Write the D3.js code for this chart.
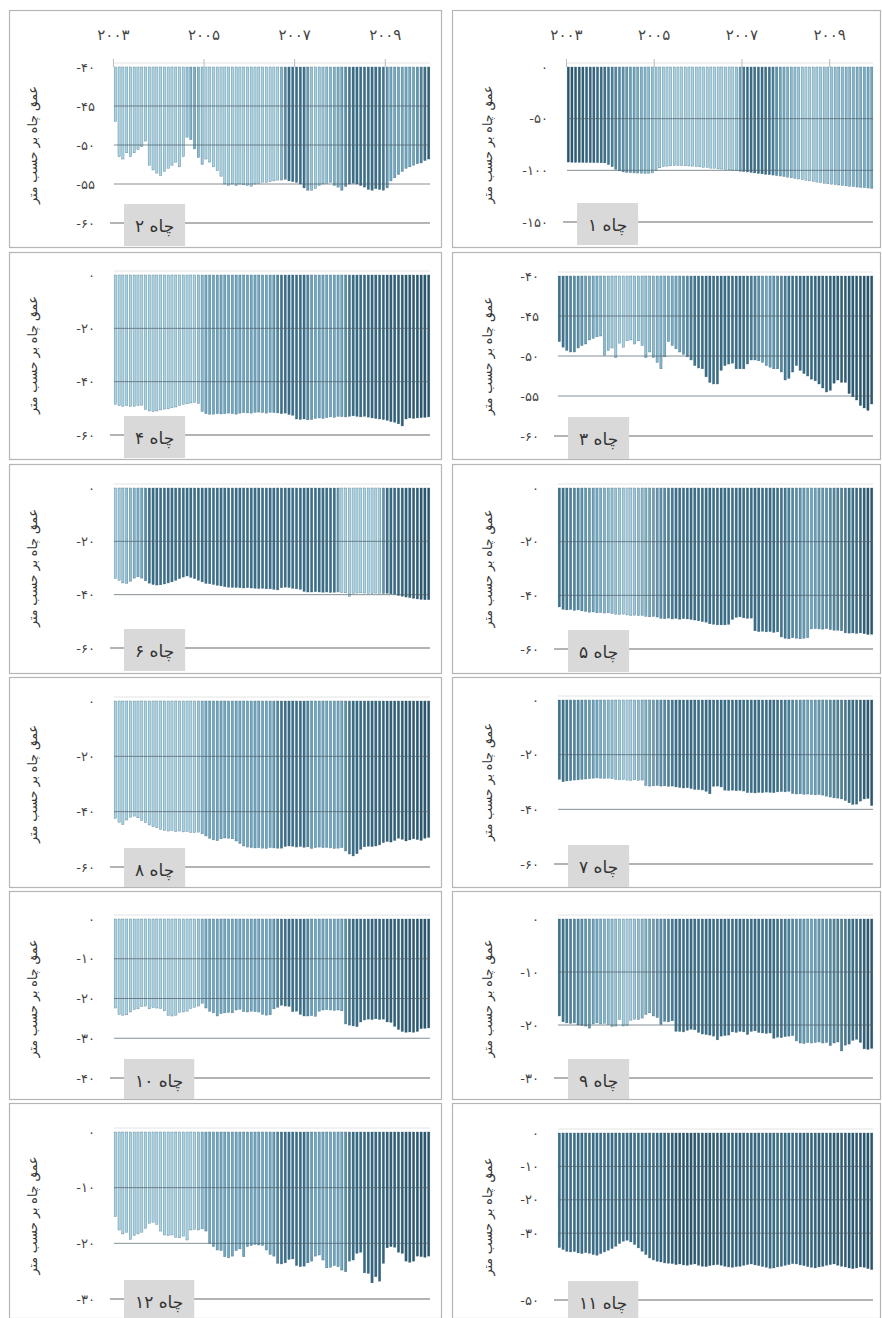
<!DOCTYPE html>
<html><head><meta charset="utf-8">
<script src="https://cdn.jsdelivr.net/npm/d3@7/dist/d3.min.js"></script>
<style>
html,body{margin:0;padding:0;background:#fff;}
svg{display:block;font-family:"DejaVu Sans",sans-serif;}
</style></head>
<body><svg id="chart" width="882" height="1318"></svg>
<script>
// ---------- DATA ----------
const years = [2003, 2004, 2005, 2006, 2007, 2008, 2009];
const yearTicks = [2003, 2005, 2007, 2009];
const yTitle = "عمق چاه بر حسب متر";
const wellLabel = "چاه";

const well1 = [-92.0,-92.2,-92.3,-92.3,-92.4,-92.5,-92.5,-92.6,-92.6,-92.7,-92.8,-94.5,
  -96.5,-99.0,-100.5,-101.5,-102.0,-102.3,-102.5,-102.6,-102.8,-103.0,-102.8,-102.5,
  -100.0,-97.5,-96.5,-96.0,-95.6,-95.5,-95.4,-95.5,-95.6,-95.8,-96.0,-96.3,
  -96.6,-97.1,-97.2,-97.9,-98.0,-98.6,-98.7,-99.3,-99.5,-100.1,-100.3,-100.9,
  -101.2,-101.6,-102.0,-102.5,-103.0,-103.4,-103.8,-104.2,-104.6,-105.0,-105.5,-106.0,
  -106.6,-107.2,-107.8,-108.4,-109.0,-109.6,-110.2,-110.8,-111.4,-112.0,-112.5,-113.0,
  -113.4,-113.8,-114.2,-114.6,-115.0,-115.4,-115.8,-116.2,-116.5,-116.8,-117.1,-117.4];
const well2 = [-47.0,-51.5,-51.8,-51.0,-51.5,-51.0,-50.6,-50.2,-49.5,-52.6,-53.2,-53.6,
  -53.9,-53.4,-53.0,-52.6,-52.2,-52.8,-51.5,-49.0,-49.3,-50.5,-51.6,-52.5,
  -51.8,-52.2,-52.8,-53.3,-54.0,-55.0,-55.2,-55.0,-55.2,-55.0,-55.1,-55.2,
  -55.3,-55.0,-54.9,-54.8,-54.8,-54.7,-54.6,-54.5,-54.5,-54.4,-54.6,-54.7,
  -54.8,-55.0,-55.5,-55.8,-55.8,-55.6,-55.2,-55.0,-54.9,-54.8,-55.2,-55.4,
  -55.8,-55.3,-55.0,-54.9,-55.0,-55.2,-55.4,-55.7,-55.8,-55.6,-55.7,-55.8,
  -55.5,-54.6,-54.2,-53.8,-53.4,-53.0,-52.8,-52.6,-52.4,-52.3,-52.0,-51.8];
const well3 = [-48.2,-48.9,-49.3,-49.5,-49.5,-49.0,-48.7,-48.5,-48.0,-47.8,-47.6,-47.5,
  -49.9,-49.3,-49.0,-50.2,-48.4,-48.9,-48.1,-48.0,-48.5,-48.1,-48.7,-50.2,
  -49.5,-50.2,-50.8,-51.6,-50.1,-48.2,-48.7,-49.1,-49.5,-49.8,-50.1,-50.5,
  -51.2,-51.5,-51.6,-52.6,-53.3,-53.5,-53.5,-51.8,-51.2,-51.0,-50.9,-51.6,
  -51.6,-51.6,-51.0,-50.5,-50.5,-50.6,-50.8,-51.2,-51.4,-51.6,-51.6,-52.0,
  -53.0,-52.8,-52.0,-51.2,-51.8,-52.2,-52.5,-52.9,-53.1,-53.5,-54.0,-54.5,
  -54.3,-53.4,-53.0,-53.3,-53.3,-54.7,-55.1,-55.5,-56.2,-56.5,-56.8,-56.0];
const well4 = [-48.5,-49.0,-49.2,-49.0,-49.3,-49.2,-49.0,-48.8,-50.5,-51.0,-51.2,-51.0,
  -50.6,-50.3,-50.2,-49.8,-49.5,-49.0,-48.5,-48.3,-48.0,-47.8,-48.2,-51.2,
  -52.0,-52.2,-52.2,-52.0,-52.1,-52.0,-51.8,-52.0,-52.2,-51.8,-51.6,-51.7,
  -51.8,-51.5,-51.4,-51.6,-51.8,-51.5,-51.6,-51.7,-52.0,-51.8,-52.3,-52.6,
  -54.0,-54.2,-54.0,-54.3,-54.2,-53.8,-53.6,-53.8,-53.5,-53.2,-53.4,-53.0,
  -53.1,-53.2,-53.0,-52.8,-53.0,-53.2,-53.0,-53.3,-53.6,-53.8,-54.0,-54.2,
  -54.5,-55.0,-55.2,-55.8,-56.6,-54.0,-53.6,-53.8,-53.6,-53.5,-53.4,-53.2];
const well5 = [-44.3,-45.2,-45.4,-45.3,-45.6,-45.4,-45.8,-46.0,-46.3,-46.2,-46.5,-46.4,
  -46.6,-46.5,-46.8,-47.0,-47.2,-47.0,-47.3,-47.5,-47.4,-47.6,-47.5,-47.8,
  -48.0,-47.9,-48.1,-48.6,-48.7,-48.5,-48.8,-48.6,-48.9,-48.7,-48.8,-49.0,
  -49.2,-49.5,-49.8,-50.0,-50.6,-50.8,-51.0,-51.0,-51.0,-50.8,-49.0,-48.2,
  -48.0,-48.4,-48.6,-48.5,-53.2,-53.5,-53.4,-53.6,-53.5,-53.8,-53.6,-55.5,
  -56.0,-56.2,-55.8,-56.0,-56.2,-56.0,-55.8,-52.5,-52.4,-52.5,-52.6,-52.4,
  -52.8,-53.0,-53.0,-53.2,-54.0,-54.1,-54.0,-54.2,-54.0,-54.3,-54.6,-54.5];
const well6 = [-34.0,-34.6,-35.6,-35.8,-35.0,-33.8,-33.3,-33.8,-34.8,-35.7,-36.2,-36.4,
  -36.3,-36.0,-35.6,-35.2,-34.6,-34.0,-33.4,-33.0,-33.5,-34.0,-34.6,-35.2,
  -35.8,-35.9,-36.2,-36.5,-36.7,-37.0,-37.2,-37.3,-37.3,-37.4,-37.5,-37.4,
  -37.5,-37.6,-37.7,-37.6,-37.8,-37.8,-38.0,-38.2,-37.4,-37.2,-37.3,-37.6,
  -37.8,-38.0,-38.8,-39.0,-39.0,-38.9,-39.0,-39.1,-39.0,-39.2,-39.1,-39.0,
  -39.2,-39.3,-40.6,-39.5,-39.4,-39.3,-39.4,-39.5,-39.6,-39.4,-39.5,-39.6,
  -39.5,-39.7,-39.8,-40.3,-40.6,-40.9,-41.1,-41.4,-41.6,-41.8,-41.9,-41.9];
const well7 = [-29.0,-29.9,-29.6,-29.5,-29.3,-29.2,-29.0,-28.9,-28.8,-28.6,-28.5,-28.6,
  -28.7,-28.6,-28.8,-29.0,-29.2,-29.1,-29.3,-29.4,-29.2,-29.4,-29.3,-31.3,
  -31.5,-31.4,-31.3,-31.5,-31.4,-31.6,-31.5,-31.8,-32.0,-32.2,-32.1,-32.4,
  -32.7,-32.8,-32.9,-33.4,-34.3,-31.6,-31.5,-31.8,-33.0,-33.1,-33.0,-33.2,
  -33.1,-33.3,-33.9,-33.9,-34.0,-33.8,-33.9,-33.7,-33.8,-33.9,-33.6,-33.5,
  -33.6,-33.4,-34.2,-34.4,-34.3,-34.5,-34.4,-34.6,-34.7,-34.6,-34.8,-35.2,
  -35.5,-35.8,-35.9,-36.2,-36.8,-37.6,-38.2,-38.1,-37.0,-36.2,-36.0,-38.6];
const well8 = [-42.4,-43.8,-44.6,-43.0,-42.0,-41.6,-42.2,-43.2,-44.0,-44.8,-45.4,-45.8,
  -46.4,-46.8,-47.0,-46.8,-47.2,-47.0,-47.3,-47.2,-47.5,-47.6,-47.4,-48.0,
  -48.8,-49.6,-50.2,-50.5,-49.8,-49.5,-49.6,-49.8,-50.6,-51.5,-52.4,-52.8,
  -53.0,-53.1,-53.0,-53.2,-53.3,-53.0,-53.1,-53.2,-53.2,-52.6,-52.4,-52.5,
  -52.8,-52.6,-52.9,-52.7,-53.3,-53.0,-52.8,-53.0,-52.9,-53.1,-53.3,-53.2,
  -53.0,-54.2,-55.3,-56.0,-55.2,-53.6,-52.7,-52.5,-52.6,-52.4,-52.0,-51.2,
  -50.8,-51.0,-50.4,-49.6,-50.0,-50.6,-50.2,-49.8,-50.1,-50.4,-49.6,-49.3];
const well9 = [-18.3,-19.4,-19.6,-19.7,-19.6,-20.0,-20.1,-20.2,-20.6,-19.8,-19.6,-19.8,
  -19.7,-19.9,-20.3,-20.2,-19.0,-20.2,-20.1,-19.1,-18.9,-19.0,-18.7,-18.0,
  -17.7,-18.3,-18.6,-19.9,-19.3,-19.4,-19.2,-21.2,-21.2,-21.3,-21.0,-20.8,
  -20.9,-21.4,-21.7,-21.8,-21.9,-22.1,-22.8,-22.1,-22.0,-21.9,-21.3,-21.4,
  -21.2,-21.3,-21.8,-21.2,-21.1,-21.4,-21.5,-21.6,-21.5,-22.5,-22.3,-22.4,
  -22.2,-22.1,-22.0,-23.0,-23.4,-23.5,-23.3,-23.4,-23.3,-23.2,-23.4,-23.3,
  -23.9,-23.4,-23.2,-24.9,-23.8,-23.6,-22.9,-22.7,-23.3,-24.5,-24.6,-24.4];
const well10 = [-22.4,-24.0,-24.2,-24.1,-23.4,-22.8,-22.6,-22.0,-21.9,-22.6,-22.3,-22.4,
  -22.5,-23.1,-24.3,-24.4,-24.2,-23.5,-23.4,-23.2,-22.5,-22.2,-21.9,-21.2,
  -22.4,-23.2,-23.6,-24.4,-23.8,-23.6,-23.5,-23.6,-22.9,-22.7,-23.3,-23.4,
  -23.2,-23.3,-23.4,-24.0,-24.2,-24.1,-22.6,-22.2,-21.7,-21.9,-22.0,-23.3,
  -23.2,-24.0,-24.4,-24.4,-24.3,-24.5,-23.2,-22.9,-22.8,-22.9,-23.0,-22.9,
  -23.1,-26.4,-26.7,-26.9,-27.1,-25.9,-25.4,-25.2,-25.3,-25.1,-25.3,-25.2,
  -25.9,-26.0,-27.0,-27.8,-28.3,-28.5,-28.4,-28.5,-28.3,-27.6,-27.5,-27.4];
const well11 = [-34.3,-34.9,-35.4,-35.6,-35.5,-35.9,-36.1,-35.8,-36.0,-36.4,-36.6,-36.1,
  -35.6,-35.1,-34.6,-33.9,-33.1,-32.4,-32.1,-32.6,-33.4,-34.4,-35.4,-36.4,
  -37.4,-38.0,-38.4,-38.6,-38.9,-39.0,-39.1,-39.4,-39.2,-39.5,-39.6,-39.4,
  -39.2,-39.6,-39.9,-40.0,-39.7,-39.5,-39.4,-39.6,-39.9,-40.1,-40.2,-40.0,
  -39.9,-39.6,-39.4,-39.2,-39.5,-39.7,-40.0,-40.2,-40.5,-40.4,-40.1,-39.9,
  -39.6,-39.4,-39.1,-39.2,-39.5,-39.7,-40.0,-40.2,-40.4,-40.1,-39.9,-39.6,
  -39.4,-39.2,-39.6,-39.9,-40.1,-40.4,-40.6,-40.4,-40.1,-40.2,-40.6,-40.9];
const well12 = [-15.2,-17.6,-18.3,-18.0,-19.3,-18.6,-18.3,-18.0,-17.3,-16.4,-16.2,-16.6,
  -17.8,-18.5,-18.6,-18.5,-18.9,-19.0,-18.7,-19.4,-17.6,-17.5,-17.6,-17.4,
  -17.8,-20.0,-20.6,-21.2,-21.3,-22.4,-22.6,-22.3,-21.3,-21.0,-22.4,-20.6,
  -20.4,-20.2,-20.3,-20.4,-21.2,-22.0,-22.3,-23.6,-23.7,-23.5,-22.9,-22.8,
  -24.0,-24.2,-24.1,-23.5,-23.2,-22.3,-22.1,-23.0,-24.4,-24.3,-24.0,-24.2,
  -24.8,-25.1,-23.2,-23.0,-21.8,-21.6,-25.3,-25.4,-27.1,-26.0,-26.8,-23.6,
  -20.8,-20.6,-20.7,-21.6,-21.8,-23.2,-23.4,-23.2,-22.3,-22.4,-22.5,-22.3];

const ticks60a = [-40, -45, -50, -55, -60];
const ticks150 = [0, -50, -100, -150];
const ticks60 = [0, -20, -40, -60];
const ticks40 = [0, -10, -20, -30, -40];
const ticks30 = [0, -10, -20, -30];
const ticks50 = [0, -10, -20, -30, -50];

// ---------- LAYOUT / STYLE ----------
const months = years.flatMap(y => d3.range(1, 13).map(m => y + "-" + m));
const L = "#a9d6e6", M = "#6fa8c0", D = "#3a6f89", X = "#2a5569";
const gLeft = [[0,L],[0.26,L],[0.29,M],[0.5,M],[0.53,D],[0.6,D],[0.63,M],[0.72,M],[0.75,D],[1,X]];
const gRight = [[0,D],[0.12,M],[0.22,L],[0.38,D],[0.7,D],[0.8,M],[1,X]];
const panels = [
 {n:2, v:well2, col:0, top:10, bot:247, yT:67, yB:223, ticks:ticks60a, grad:[[0,L],[0.22,L],[0.25,M],[0.29,L],[0.52,L],[0.55,D],[0.6,D],[0.63,L],[0.72,M],[0.75,D],[0.85,D],[0.87,M],[0.95,M],[1,X]]},
 {n:1, v:well1, col:1, top:10, bot:247, yT:67, yB:222, ticks:ticks150, x0:567, grad:[[0,X],[0.12,D],[0.22,M],[0.32,L],[0.55,L],[0.58,D],[0.66,D],[0.7,M],[0.78,L],[1,M]]},
 {n:4, v:well4, col:0, top:252, bot:459, yT:275, yB:435, ticks:ticks60, grad:gLeft},
 {n:3, v:well3, col:1, top:252, bot:459, yT:276, yB:436, ticks:ticks60a, grad:[[0,D],[0.1,M],[0.2,L],[0.38,M],[0.44,D],[0.6,D],[0.66,M],[0.74,D],[1,X]]},
 {n:6, v:well6, col:0, top:464, bot:673, yT:488, yB:648, ticks:ticks60, grad:[[0,L],[0.09,M],[0.11,D],[0.7,D],[0.72,L],[0.84,L],[0.86,D],[1,X]]},
 {n:5, v:well5, col:1, top:464, bot:673, yT:488, yB:649, ticks:ticks60, grad:gRight},
 {n:8, v:well8, col:0, top:677, bot:887, yT:701, yB:867, ticks:ticks60, grad:gLeft},
 {n:7, v:well7, col:1, top:677, bot:887, yT:700, yB:864, ticks:ticks60, grad:gRight},
 {n:10, v:well10, col:0, top:891, bot:1099, yT:919, yB:1078, ticks:ticks40, grad:gLeft},
 {n:9, v:well9, col:1, top:891, bot:1099, yT:919, yB:1078, ticks:ticks30, grad:gRight},
 {n:12, v:well12, col:0, top:1103, bot:1318, yT:1132, yB:1299, ticks:ticks30, grad:gLeft},
 {n:11, v:well11, col:1, top:1103, bot:1318, yT:1133, yB:1300, ticks:ticks50, grad:[[0,D],[0.3,D],[0.4,X],[0.7,D],[1,X]]}
];
const colGeom = [
  {frameX:9, frameW:432, x0:114, x1:430, titleX:33},
  {frameX:452, frameW:428, x0:558, x1:873, titleX:488}
];

const fa = s => String(s).replace(/\d/g, d => "۰۱۲۳۴۵۶۷۸۹"[+d]);
const svg = d3.select("#chart");
const defs = svg.append("defs");

panels.forEach((p, k) => {
  const cg = colGeom[p.col];
  const x0 = p.x0 || cg.x0, x1 = cg.x1;
  const g = svg.append("g");
  g.append("rect").attr("x", cg.frameX + 0.5).attr("y", p.top + 0.5)
    .attr("width", cg.frameW).attr("height", p.bot - p.top)
    .attr("fill", "#fff").attr("stroke", "#b5b5b5").attr("stroke-width", 1.2);

  const domain = d3.extent(p.ticks);
  const y = d3.scaleLinear().domain(domain).range([p.yB, p.yT]);
  const x = d3.scaleBand().domain(months).range([x0, x1]).paddingInner(0.4).paddingOuter(0.05);
  const topVal = domain[1];

  const gid = "grad" + k;
  const lg = defs.append("linearGradient").attr("id", gid)
    .attr("gradientUnits", "userSpaceOnUse").attr("x1", x0).attr("x2", x1).attr("y1", 0).attr("y2", 0);
  p.grad.forEach(s => lg.append("stop").attr("offset", s[0]).attr("stop-color", s[1]));

  g.append("line").attr("x1", x0).attr("x2", x1).attr("y1", p.yT - 4).attr("y2", p.yT - 4)
    .attr("stroke", "#e4e4e4").attr("stroke-width", 1);
  if (p.top === 10) {
    yearTicks.forEach(yr => {
      const tx = x(yr + "-1") - x.step() * x.paddingInner() / 2;
      g.append("line").attr("x1", tx).attr("x2", tx).attr("y1", p.yT - 8).attr("y2", p.yT)
        .attr("stroke", "#bbb").attr("stroke-width", 1);
      g.append("text").attr("x", tx).attr("y", 40).attr("text-anchor", "middle")
        .attr("font-size", 15).attr("fill", "#444").text(fa(yr));
    });
  }

  g.append("g").selectAll("rect").data(p.v).join("rect")
    .attr("x", (d, i) => x(months[i]))
    .attr("width", x.bandwidth())
    .attr("y", y(topVal))
    .attr("height", d => y(d) - y(topVal))
    .attr("fill", "url(#" + gid + ")")
    .attr("stroke", "#24516a").attr("stroke-opacity", 0.6).attr("stroke-width", 0.5);

  p.ticks.filter(t => t !== topVal && t !== domain[0]).forEach(t => {
    g.append("line").attr("x1", x0).attr("x2", x1).attr("y1", y(t)).attr("y2", y(t))
      .attr("stroke", "#4f6068").attr("stroke-opacity", 0.7).attr("stroke-width", 1);
  });
  g.append("line").attr("x1", x0 - 4).attr("x2", x1).attr("y1", y(domain[0])).attr("y2", y(domain[0]))
    .attr("stroke", "#9a9a9a").attr("stroke-width", 1.5);

  p.ticks.forEach(t => {
    g.append("text").attr("x", x0 - 19).attr("y", y(t)).attr("dy", "0.35em")
      .attr("text-anchor", "end").attr("font-size", 13).attr("fill", "#444")
      .text(t === 0 ? "۰" : "-" + fa(Math.abs(t)));
  });

  g.append("text").attr("transform", `translate(${cg.titleX},${(p.yT + p.yB) / 2}) rotate(-90)`)
    .attr("text-anchor", "middle").attr("dy", "0.35em").attr("font-size", 12.5).attr("fill", "#333")
    .text(yTitle);

  const lab = g.append("text").attr("direction", "rtl").attr("font-size", 17).attr("fill", "#333")
    .attr("text-anchor", "middle").text(wellLabel + " " + fa(p.n));
  const tw = lab.node().getComputedTextLength();
  const bx = x0 + 10, bw = tw + 22, by = p.yB - 19, bh = Math.min(p.bot - by, 42);
  g.insert("rect", "text:last-of-type").attr("x", bx).attr("y", by).attr("width", bw).attr("height", bh)
    .attr("fill", "#d9d9d9");
  lab.raise().attr("x", bx + bw / 2).attr("y", p.yB + 3).attr("dy", "0.35em");
});
</script>
</body></html>
